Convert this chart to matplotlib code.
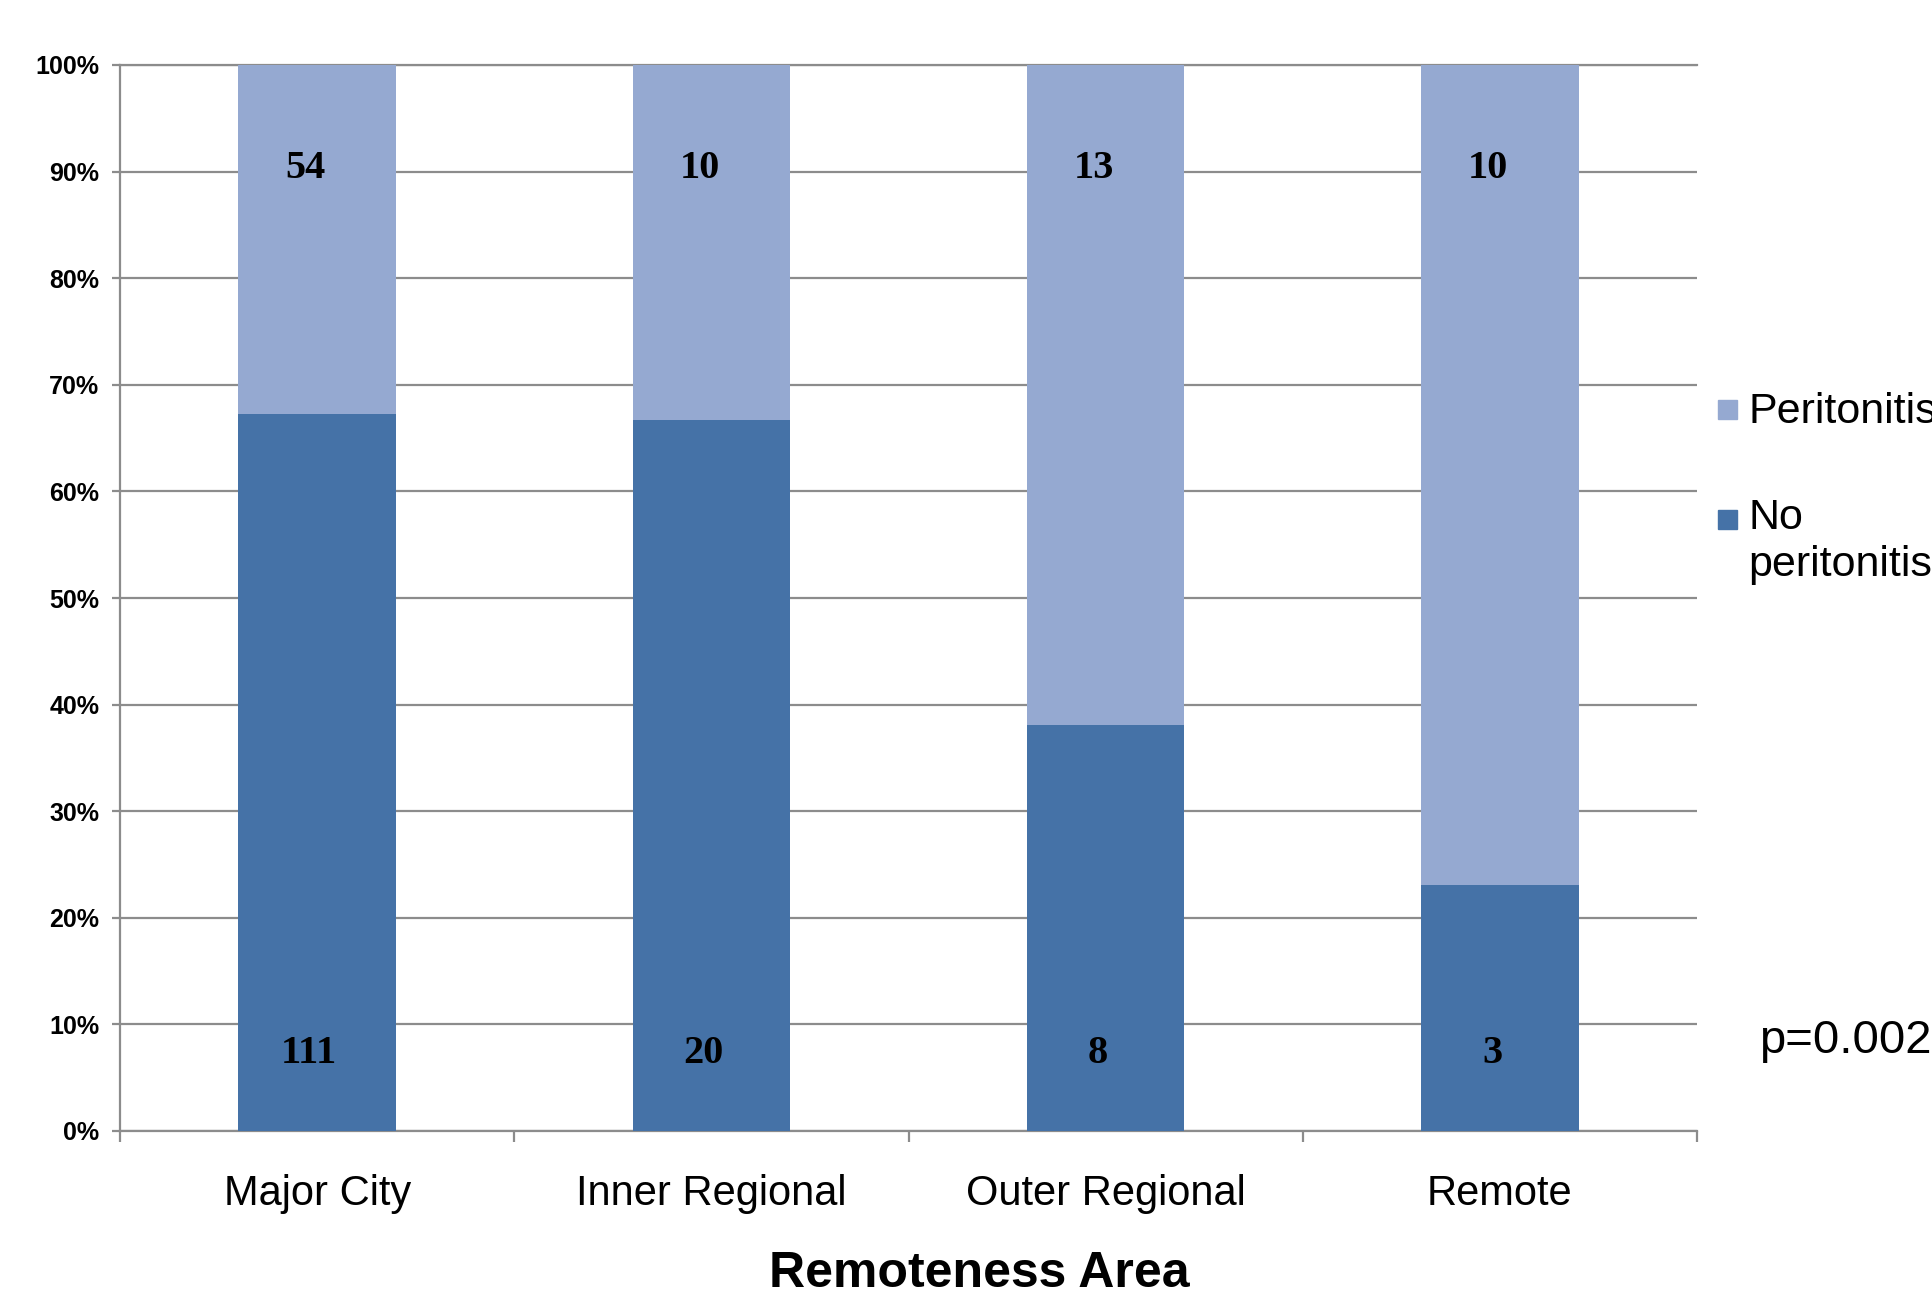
# stacked 100% bars: peritonitis by remoteness area

import matplotlib.pyplot as plt
import numpy as np
from matplotlib.patches import Rectangle

areas = ['Major City', 'Inner Regional', 'Outer Regional', 'Remote']
no_peritonitis = [111, 20, 8, 3]
peritonitis = [54, 10, 13, 10]
y_ticks = [0, 10, 20, 30, 40, 50, 60, 70, 80, 90, 100]
p_text = 'p=0.002'

dark_blue = '#4572A7'
light_blue = '#95A9D1'
grid_grey = '#8c8c8c'

totals = np.array(no_peritonitis) + np.array(peritonitis)
pct_no = 100 * np.array(no_peritonitis) / totals
pct_yes = 100 - pct_no

W, H = 1932, 1289
fig = plt.figure(figsize=(W / 100, H / 100), dpi=100)
ax = fig.add_axes([120 / W, 1 - 1131 / H, (1697 - 120) / W, (1131 - 65) / H])

x = np.arange(len(areas))
ax.bar(x, pct_no, width=0.4, color=dark_blue, zorder=3)
ax.bar(x, pct_yes, bottom=pct_no, width=0.4, color=light_blue, zorder=3)

ax.set_xlim(-0.5, len(areas) - 0.5)
ax.set_ylim(0, 100)

# y axis
ax.set_yticks(y_ticks)
ax.set_yticklabels([f'{v}%' for v in y_ticks], fontfamily='Liberation Sans',
                   fontweight='bold', fontsize=18)
ax.tick_params(axis='y', length=6, width=1.6, color=grid_grey, pad=9)
ax.yaxis.grid(True, color=grid_grey, linewidth=1.6, zorder=0)
ax.set_axisbelow(True)

# x axis: ticks on the boundaries, labels in the middle
ax.set_xticks(np.arange(-0.5, len(areas)), labels=[''] * (len(areas) + 1))
ax.tick_params(axis='x', which='major', length=8, width=1.6, color=grid_grey,
               direction='out')
ax.set_xticks(x, minor=True)
ax.set_xticklabels(areas, minor=True, fontfamily='Liberation Sans', fontsize=30)
ax.tick_params(axis='x', which='minor', length=0, pad=31)

for side in ['left', 'bottom', 'top']:
    ax.spines[side].set_color(grid_grey)
    ax.spines[side].set_linewidth(1.6)
ax.spines['right'].set_visible(False)

# counts on bars
for i in range(len(areas)):
    ax.text(x[i] - 0.02, 7.3, str(no_peritonitis[i]), ha='center', va='center',
            fontfamily='Liberation Serif', fontweight='bold', fontsize=29, zorder=4)
    ax.text(x[i] - 0.03, 90.3, str(peritonitis[i]), ha='center', va='center',
            fontfamily='Liberation Serif', fontweight='bold', fontsize=29, zorder=4)

# legend drawn by hand, clipped by the figure edge like the original
sq = 19
fig.add_artist(Rectangle((1718 / W, 1 - (409 + sq / 2) / H), sq / W, sq / H,
                         transform=fig.transFigure, color=light_blue))
fig.text(1748 / W, 1 - 412 / H, 'Peritonitis', ha='left', va='center',
         fontfamily='Liberation Sans', fontsize=31)
fig.add_artist(Rectangle((1718 / W, 1 - (519 + sq / 2) / H), sq / W, sq / H,
                         transform=fig.transFigure, color=dark_blue))
fig.text(1748 / W, 1 - 498 / H, 'No\nperitonitis', ha='left', va='top',
         fontfamily='Liberation Sans', fontsize=31, linespacing=1.22)

fig.text(1759 / W, 1 - 1041 / H, p_text, ha='left', va='center',
         fontfamily='Liberation Sans', fontsize=34)

fig.text(979 / W, 2 / H, 'Remoteness Area', ha='center', va='baseline',
         fontfamily='Liberation Sans', fontweight='bold', fontsize=36)

fig.savefig('out.png', dpi=100)
